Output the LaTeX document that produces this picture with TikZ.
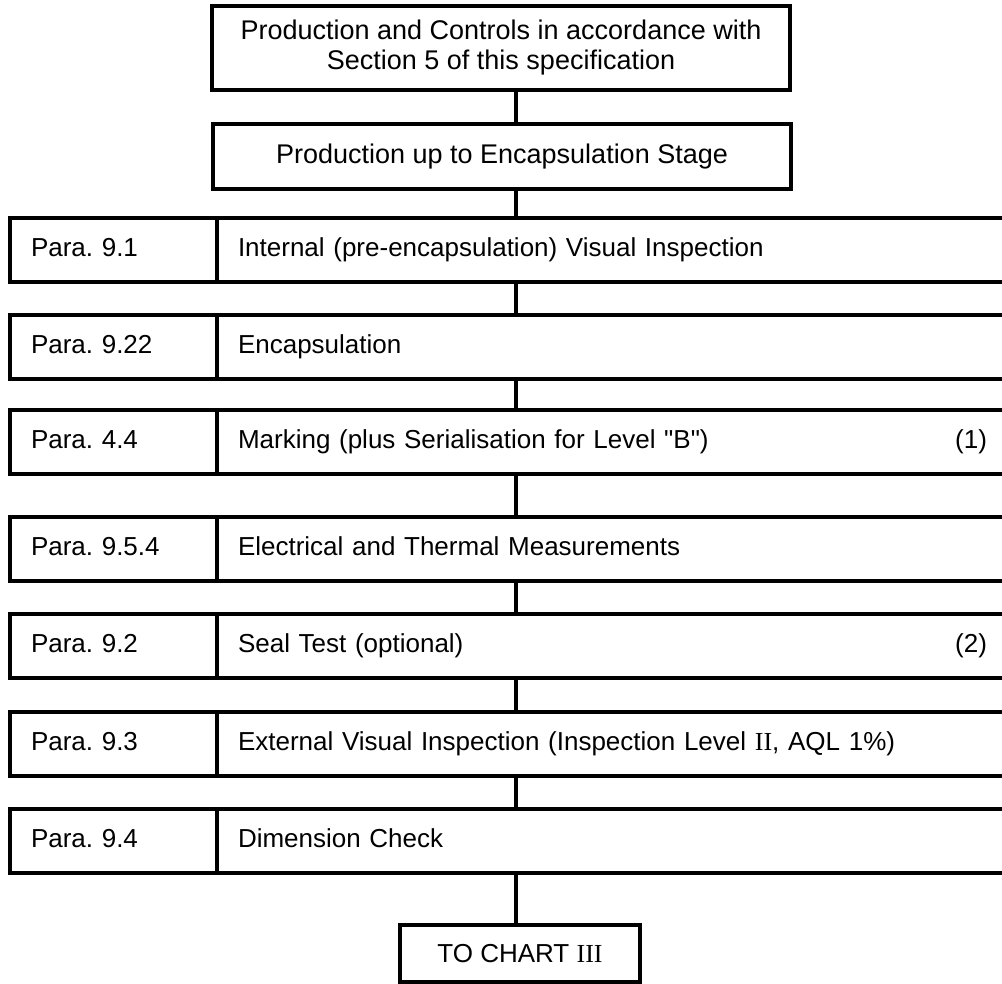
\documentclass[tikz,border=0pt]{standalone}
\usepackage{fontspec}
\setmainfont{Liberation Sans}[Ligatures=TeXOff]
\newfontfamily\numfont{Liberation Serif}
\usetikzlibrary{positioning}
\frenchspacing

\begin{document}
\begin{tikzpicture}[
    x = 1pt, y = -1pt,
    every node/.style = {font=\fontsize{26}{30}\selectfont, inner sep=0pt, outer sep=0pt},
    box/.style = {draw, line width=4.5pt, rectangle},
    headbox/.style = {box, minimum width=578pt, align=center, font=\fontsize{27}{30}\selectfont},
    cellbox/.style = {box, minimum height=64pt, text height=19pt, text depth=6pt, align=left},
    parabox/.style = {cellbox, anchor=west, minimum width=207pt, text width=165pt},
    stepbox/.style = {cellbox, right=0pt of #1, minimum width=805pt, text width=763pt},
    link/.style = {line width=3.5pt}
  ]
    \useasboundingbox (0,0) rectangle (1002,984);
    \clip (0,0) rectangle (1002,984);
    \coordinate (axis) at (516,0);

    % head of the chart
    \node[headbox, minimum height=84pt] (spec) at (501,48)
        {Production and Controls in accordance with\\Section 5 of this specification};
    \node[headbox, minimum height=65pt] (stage) at (502,156.5)
        {Production up to Encapsulation Stage};

    % rows: paragraph | step
    \node[parabox] (p1) at (10,250) {Para. 9.1};
    \node[stepbox=p1] (s1) {Internal (pre-encapsulation) Visual Inspection};
    \node[parabox] (p2) at (10,347) {Para. 9.22};
    \node[stepbox=p2] (s2) {Encapsulation};
    \node[parabox] (p3) at (10,442) {Para. 4.4};
    \node[stepbox=p3] (s3) {Marking (plus Serialisation for Level "B")};
    \node[left=35pt of s3.east] (n1) {(1)};
    \node[parabox] (p4) at (10,549) {Para. 9.5.4};
    \node[stepbox=p4] (s4) {Electrical and Thermal Measurements};
    \node[parabox] (p5) at (10,646) {Para. 9.2};
    \node[stepbox=p5] (s5) {Seal Test (optional)};
    \node[left=35pt of s5.east] (n2) {(2)};
    \node[parabox] (p6) at (10,744) {Para. 9.3};
    \node[stepbox=p6] (s6) {External Visual Inspection (Inspection Level {\numfont II}, AQL 1\%)};
    \node[parabox] (p7) at (10,841) {Para. 9.4};
    \node[stepbox=p7] (s7) {Dimension Check};

    % exit
    \node[box, minimum width=240pt, minimum height=57pt] (chart) at (520,953.5)
        {TO CHART {\numfont III}};

    % connectors
    \draw[link] (spec.south -| axis) -- (stage.north -| axis);
    \draw[link] (stage.south -| axis) -- (s1.north -| axis);
    \foreach \a/\b in {s1/s2, s2/s3, s3/s4, s4/s5, s5/s6, s6/s7}
        \draw[link] (\a.south -| axis) -- (\b.north -| axis);
    \draw[link] (s7.south -| axis) -- (chart.north -| axis);
\end{tikzpicture}
\end{document}
